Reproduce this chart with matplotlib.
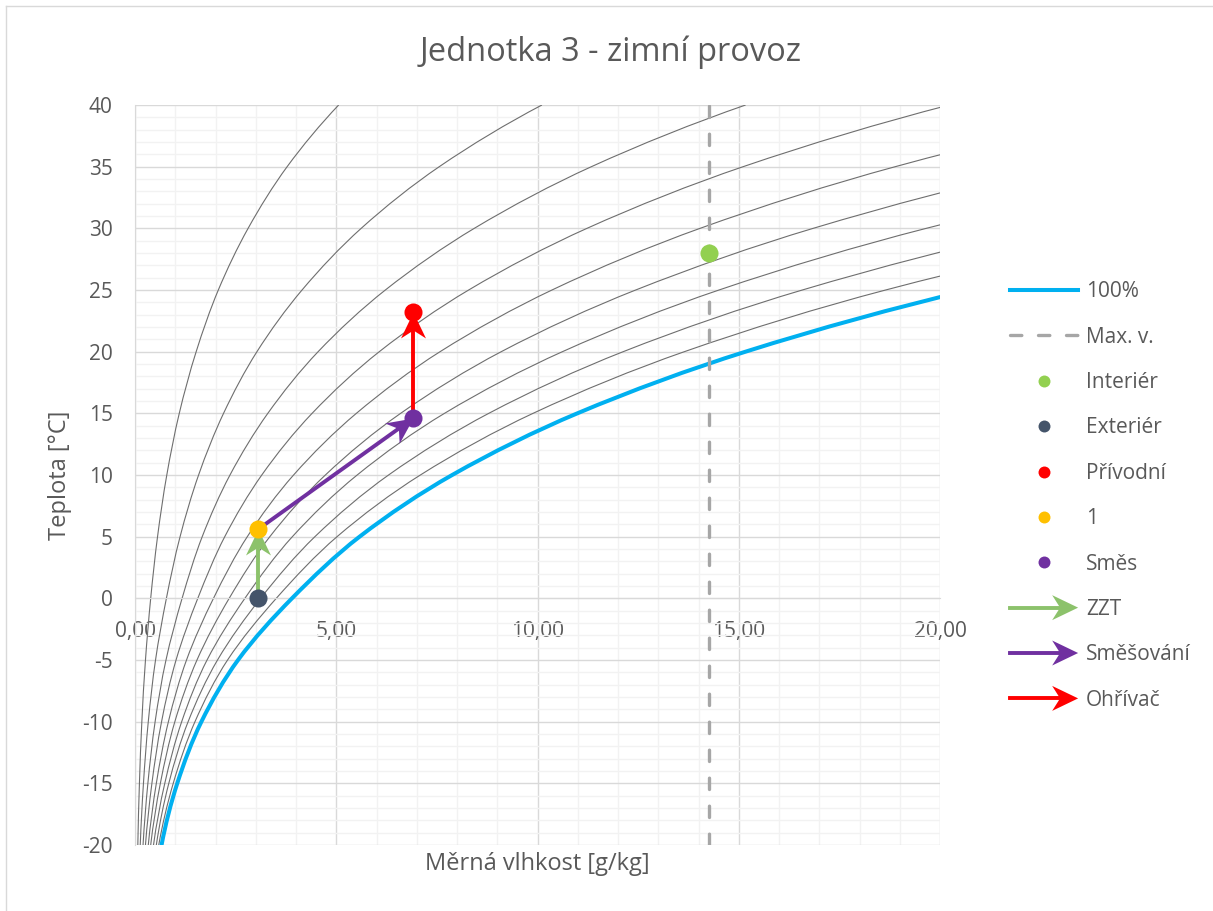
import numpy as np
import matplotlib
matplotlib.use("Agg")
import matplotlib.pyplot as plt
from matplotlib.path import Path
from matplotlib.patches import PathPatch, Polygon
from matplotlib.lines import Line2D
from matplotlib.markers import MarkerStyle
from matplotlib.transforms import Affine2D
from matplotlib.legend_handler import HandlerBase
from matplotlib.ticker import MultipleLocator, FuncFormatter

plt.rcParams['font.family'] = ['Open Sans', 'DejaVu Sans']
plt.rcParams['axes.unicode_minus'] = False

# temperature steps of the humidity curves [°C]
temps = [-20, -15, -10, -5, 0, 5, 10, 15, 20, 25, 30, 35, 40]

# specific humidity [g/kg] (10 % ... 100 %)
x_rh10 = [0.07, 0.11, 0.17, 0.26, 0.39, 0.56, 0.79, 1.10, 1.52, 2.07, 2.81, 3.78, 5.06]
x_rh20 = [0.13, 0.21, 0.33, 0.51, 0.78, 1.12, 1.58, 2.20, 3.03, 4.15, 5.62, 7.56, 10.11]
x_rh30 = [0.20, 0.32, 0.50, 0.77, 1.17, 1.67, 2.36, 3.30, 4.55, 6.22, 8.43, 11.34, 15.17]
x_rh40 = [0.26, 0.42, 0.66, 1.02, 1.56, 2.23, 3.15, 4.40, 6.07, 8.29, 11.23, 15.11, 20.23]
x_rh50 = [0.33, 0.53, 0.83, 1.28, 1.95, 2.79, 3.94, 5.50, 7.58, 10.36, 14.04, 18.89, 25.28]
x_rh60 = [0.39, 0.63, 0.99, 1.54, 2.34, 3.35, 4.73, 6.60, 9.10, 12.44, 16.85, 22.67, 30.34]
x_rh70 = [0.46, 0.74, 1.16, 1.79, 2.73, 3.91, 5.52, 7.69, 10.62, 14.51, 19.66, 26.45, 35.40]
x_rh80 = [0.53, 0.84, 1.32, 2.05, 3.12, 4.47, 6.30, 8.79, 12.13, 16.58, 22.47, 30.23, 40.45]
x_rh90 = [0.59, 0.95, 1.49, 2.30, 3.51, 5.02, 7.09, 9.89, 13.65, 18.65, 25.28, 34.01, 45.51]
x_rh100 = [0.66, 1.05, 1.65, 2.56, 3.90, 5.58, 7.88, 10.99, 15.17, 20.73, 28.08, 37.79, 50.57]

# max. humidity line
max_v = 14.26

# state points (x [g/kg], t [°C])
interier = (14.26, 28.0)
exterier = (3.06, 0.0)
privodni = (6.91, 23.2)
bod1 = (3.06, 5.6)
smes = (6.91, 14.6)

txt_color = '#595959'
green_arrow = '#8CC26B'

# notched arrow head (pixels): tip at origin
head_path = Path([(0, 0), (-26, 12.5), (-18, 0), (-26, -12.5), (0, 0)],
                 [Path.MOVETO, Path.LINETO, Path.LINETO, Path.LINETO, Path.CLOSEPOLY])


def smooth_path(xs, ys, sx=40.25, sy=12.33):
    # smoothed line through the points (chord-length hermite -> bezier)
    p = np.column_stack([xs, ys]).astype(float)
    d = np.hypot(np.diff(p[:, 0]) * sx, np.diff(p[:, 1]) * sy)
    t = np.concatenate([[0], np.cumsum(d)])
    n = len(p)
    m = np.zeros_like(p)
    for i in range(1, n - 1):
        m[i] = (p[i + 1] - p[i - 1]) / (t[i + 1] - t[i - 1])
    m[0] = 2 * (p[1] - p[0]) / (t[1] - t[0]) - m[1]
    m[-1] = 2 * (p[-1] - p[-2]) / (t[-1] - t[-2]) - m[-2]
    verts = [p[0]]
    codes = [Path.MOVETO]
    for i in range(n - 1):
        h = t[i + 1] - t[i]
        verts += [p[i] + m[i] * h / 3, p[i + 1] - m[i + 1] * h / 3, p[i + 1]]
        codes += [Path.CURVE4] * 3
    return Path(verts, codes)


def draw_arrow(ax, start, end, color):
    ax.plot([start[0], end[0]], [start[1], end[1]], color=color, lw=2.8,
            solid_capstyle='butt', zorder=4)
    (x0, y0), (x1, y1) = ax.transData.transform([start, end])
    ang = np.degrees(np.arctan2(y1 - y0, x1 - x0))
    ax.plot(end[0], end[1], ls='none',
            marker=MarkerStyle(head_path, transform=Affine2D().rotate_deg(ang)),
            ms=37.4, color=color, mec='none', zorder=4)


class ArrowProxy:
    def __init__(self, color):
        self.color = color


class ArrowHandler(HandlerBase):
    def create_artists(self, legend, orig_handle, xdescent, ydescent, width, height,
                       fontsize, trans):
        y = height / 2 - ydescent
        x0 = -xdescent
        x1 = width - xdescent
        L, W, N = 18.7, 9.0, 13.0
        c = orig_handle.color
        shaft = Line2D([x0, x1 - N], [y, y], color=c, lw=2.8, transform=trans)
        head = Polygon([[x1, y], [x1 - L, y + W], [x1 - N, y], [x1 - L, y - W]],
                       closed=True, fc=c, ec='none', transform=trans)
        return [shaft, head]


fig = plt.figure(figsize=(12.13, 9.11), dpi=100)
ax = fig.add_axes([135 / 1213, 1 - 845 / 911, (940 - 135) / 1213, (845 - 105) / 911])

ax.set_xlim(0, 20)
ax.set_ylim(-20, 40)
ax.xaxis.set_major_locator(MultipleLocator(5))
ax.xaxis.set_minor_locator(MultipleLocator(1))
ax.yaxis.set_major_locator(MultipleLocator(5))
ax.yaxis.set_minor_locator(MultipleLocator(1))
ax.xaxis.set_major_formatter(FuncFormatter(lambda v, p: '{:.2f}'.format(v).replace('.', ',')))
ax.yaxis.set_major_formatter(FuncFormatter(lambda v, p: '{:.0f}'.format(v)))
ax.grid(which='minor', color='#F2F2F2', lw=1)
ax.grid(which='major', color='#D9D9D9', lw=1)
ax.set_axisbelow(True)
for s in ['top', 'right']:
    ax.spines[s].set_visible(False)
ax.spines['left'].set_color('#D9D9D9')
ax.spines['bottom'].set_color('#D9D9D9')
ax.spines['bottom'].set_position(('data', 0))
ax.tick_params(which='both', length=0, colors=txt_color, labelsize=15)
ax.tick_params(axis='x', pad=16)
ax.tick_params(axis='y', pad=16)

for xs in [x_rh10, x_rh20, x_rh30, x_rh40, x_rh50, x_rh60, x_rh70, x_rh80, x_rh90]:
    ax.add_patch(PathPatch(smooth_path(xs, temps), fill=False, ec='#6E6E6E', lw=0.8, zorder=2))
ax.add_patch(PathPatch(smooth_path(x_rh100, temps), fill=False, ec='#00B0F0', lw=2.9,
                       capstyle='round', zorder=3))

ax.plot([max_v, max_v], [-20, 40], color='#A6A6A6', lw=2.4, dashes=(3.4, 5.0),
        dash_capstyle='round', zorder=3)

draw_arrow(ax, exterier, bod1, green_arrow)
draw_arrow(ax, bod1, smes, '#7030A0')
draw_arrow(ax, smes, privodni, '#FF0000')

pts = [(interier, '#92D050'), (exterier, '#44546A'), (privodni, '#FF0000'),
       (bod1, '#FFC000'), (smes, '#7030A0')]
for (px, py), c in pts:
    ax.plot(px, py, 'o', ms=13, color=c, mec='none', zorder=5)

handles = [
    Line2D([], [], color='#00B0F0', lw=2.9),
    Line2D([], [], color='#A6A6A6', lw=2.4, dashes=(3.4, 5.0), dash_capstyle='round'),
    Line2D([], [], ls='none', marker='o', ms=8.6, color='#92D050', mec='none'),
    Line2D([], [], ls='none', marker='o', ms=8.6, color='#44546A', mec='none'),
    Line2D([], [], ls='none', marker='o', ms=8.6, color='#FF0000', mec='none'),
    Line2D([], [], ls='none', marker='o', ms=8.6, color='#FFC000', mec='none'),
    Line2D([], [], ls='none', marker='o', ms=8.6, color='#7030A0', mec='none'),
    ArrowProxy(green_arrow),
    ArrowProxy('#7030A0'),
    ArrowProxy('#FF0000'),
]
labels = ['100%', 'Max. v.', 'Interiér', 'Exteriér', 'Přívodní', '1', 'Směs',
          'ZZT', 'Směšování', 'Ohřívač']
leg = fig.legend(handles, labels, loc='center left',
                 bbox_to_anchor=(1010 / 1213, 1 - 496 / 911),
                 bbox_transform=fig.transFigure, frameon=False, fontsize=15,
                 handlelength=3.27, handletextpad=0.37, labelspacing=1.17,
                 borderpad=0, borderaxespad=0,
                 handler_map={ArrowProxy: ArrowHandler()})
for t in leg.get_texts():
    t.set_color(txt_color)

fig.text(611 / 1213, 1 - 52 / 911, 'Jednotka 3 - zimní provoz', ha='center', va='center',
         fontsize=23.5, color=txt_color)
fig.text(537 / 1213, 1 - 864 / 911, 'Měrná vlhkost [g/kg]', ha='center', va='center',
         fontsize=17, color=txt_color)
fig.text(60 / 1213, 1 - 475 / 911, 'Teplota [°C]', ha='center', va='center',
         rotation=90, fontsize=17, color=txt_color)

# chart frame
fig.add_artist(Line2D([6 / 1213, 1], [1 - 6 / 911, 1 - 6 / 911], transform=fig.transFigure,
                      color='#D9D9D9', lw=1))
fig.add_artist(Line2D([6 / 1213, 6 / 1213], [0, 1 - 6 / 911], transform=fig.transFigure,
                      color='#D9D9D9', lw=1))

fig.savefig('out.png', dpi=100)
